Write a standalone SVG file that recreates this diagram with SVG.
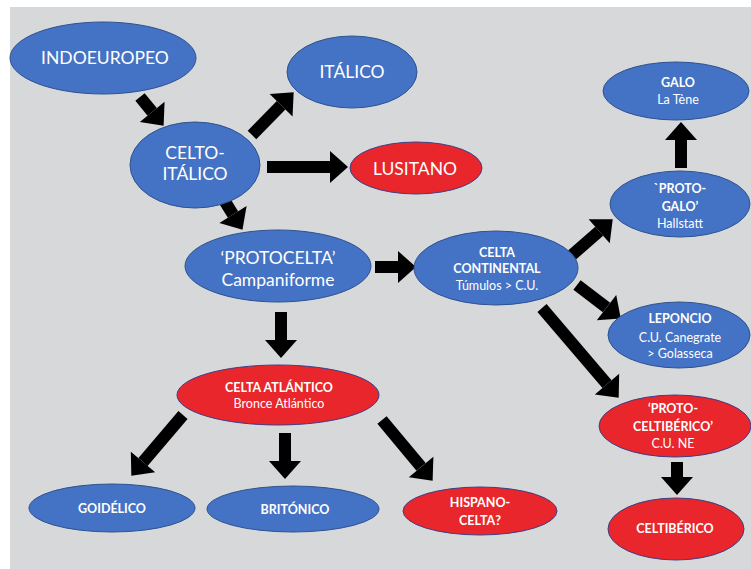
<svg xmlns="http://www.w3.org/2000/svg" width="751" height="569" viewBox="0 0 751 569">
<style>
.b{fill:#4472c4;stroke:#2f528f;stroke-width:1}
.r{fill:#e8262b;stroke:#3e3f86;stroke-width:1}
text{font-family:Lato,"Open Sans","Liberation Sans",sans-serif;fill:#ffffff;text-anchor:middle}
.L{font-size:17.5px}
.s{font-size:12.5px;font-weight:bold}
.n{font-size:12.5px}
.c line{stroke:#000;stroke-width:12}
</style>
<defs>
<marker id="ah" markerUnits="userSpaceOnUse" markerWidth="18" markerHeight="32" refX="0" refY="16" orient="auto" overflow="visible">
<path d="M0,0 L18,16 L0,32 z" fill="#000"/>
</marker>
</defs>
<rect x="0" y="0" width="751" height="569" fill="#ffffff"/>
<rect x="10" y="7" width="741" height="562" fill="#d7d8da"/>
<g class="c" id="connectors">
<line x1="140" y1="97" x2="152.2" y2="111.9" marker-end="url(#ah)"/>
<line x1="252" y1="135" x2="281.1" y2="105.2" marker-end="url(#ah)"/>
<line x1="267" y1="167" x2="330" y2="167" marker-end="url(#ah)"/>
<line x1="224" y1="200" x2="233" y2="214.5" marker-end="url(#ah)"/>
<line x1="375" y1="267" x2="398" y2="267" marker-end="url(#ah)"/>
<line x1="572" y1="255" x2="599.2" y2="231.2" marker-end="url(#ah)"/>
<line x1="681" y1="168" x2="681" y2="140" marker-end="url(#ah)"/>
<line x1="577" y1="285" x2="606.5" y2="307.6" marker-end="url(#ah)"/>
<line x1="542" y1="308" x2="607" y2="384.1" marker-end="url(#ah)"/>
<line x1="677" y1="462" x2="677" y2="477" marker-end="url(#ah)"/>
<line x1="281" y1="312" x2="281" y2="340" marker-end="url(#ah)"/>
<line x1="183" y1="415" x2="143" y2="462" marker-end="url(#ah)"/>
<line x1="285" y1="433" x2="285" y2="461" marker-end="url(#ah)"/>
<line x1="382" y1="420" x2="421.1" y2="466.9" marker-end="url(#ah)"/>
</g>
<g id="indoeuropeo"><ellipse class="b" cx="103" cy="58" rx="93" ry="36"/><text class="L" x="105" y="64">INDOEUROPEO</text></g>
<g id="italico"><ellipse class="b" cx="352" cy="72" rx="65" ry="36"/><text class="L" x="352" y="78">ITÁLICO</text></g>
<g id="celtoitalico"><ellipse class="b" cx="195" cy="165" rx="65" ry="43"/><text class="L" x="195" y="159">CELTO-</text><text class="L" x="195" y="180">ITÁLICO</text></g>
<g id="lusitano"><ellipse class="r" cx="416" cy="168" rx="66" ry="26"/><text class="L" x="415" y="175">LUSITANO</text></g>
<g id="protocelta"><ellipse class="b" cx="278" cy="266" rx="93" ry="36"/><text class="L" x="278" y="264">‘PROTOCELTA’</text><text class="L" x="278" y="286">Campaniforme</text></g>
<g id="celtacontinental"><ellipse class="b" cx="496" cy="268" rx="82" ry="37"/><text class="s" x="497" y="257">CELTA</text><text class="s" x="497" y="273">CONTINENTAL</text><text class="n" x="497" y="290">Túmulos &gt; C.U.</text></g>
<g id="galo"><ellipse class="b" cx="676" cy="91" rx="73" ry="29"/><text class="s" x="678" y="87">GALO</text><text class="n" x="678" y="104">La Tène</text></g>
<g id="protogalo"><ellipse class="b" cx="680" cy="204" rx="70" ry="33"/><text class="s" x="680" y="193">`PROTO-</text><text class="s" x="680" y="211">GALO’</text><text class="n" x="680" y="228">Hallstatt</text></g>
<g id="leponcio"><ellipse class="b" cx="679" cy="335" rx="71" ry="33"/><text class="s" x="680" y="323">LEPONCIO</text><text class="n" x="680" y="342">C.U. Canegrate</text><text class="n" x="680" y="358">&gt; Golasseca</text></g>
<g id="protoceltiberico"><ellipse class="r" cx="675" cy="426" rx="76" ry="31"/><text class="s" x="673" y="413">‘PROTO-</text><text class="s" x="673" y="431">CELTIBÉRICO’</text><text class="n" x="673" y="448">C.U. NE</text></g>
<g id="celtiberico"><ellipse class="r" cx="676" cy="529" rx="68" ry="31"/><text class="s" x="675" y="533">CELTIBÉRICO</text></g>
<g id="celtaatlantico"><ellipse class="r" cx="278" cy="395" rx="101" ry="30"/><text class="s" x="279" y="392">CELTA ATLÁNTICO</text><text class="n" x="279" y="408">Bronce Atlántico</text></g>
<g id="goidelico"><ellipse class="b" cx="112" cy="508" rx="83" ry="24"/><text class="s" x="112" y="513">GOIDÉLICO</text></g>
<g id="britonico"><ellipse class="b" cx="293" cy="509" rx="86" ry="23"/><text class="s" x="295" y="514">BRITÓNICO</text></g>
<g id="hispanocelta"><ellipse class="r" cx="480" cy="511" rx="77" ry="24"/><text class="s" x="480" y="507">HISPANO-</text><text class="s" x="480" y="525">CELTA?</text></g>
</svg>
